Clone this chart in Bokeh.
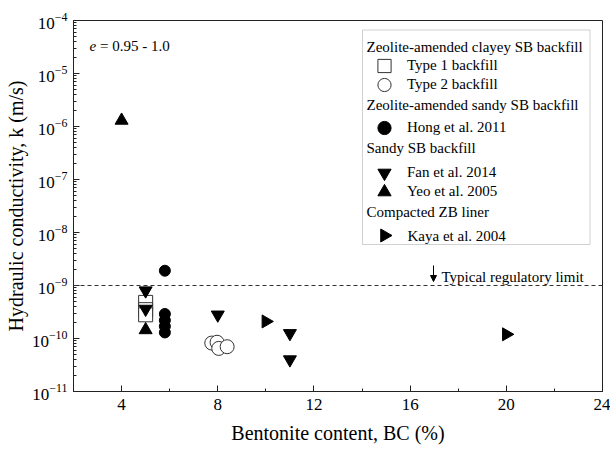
import numpy as np
from bokeh.plotting import figure
from bokeh.models import (Range1d, FixedTicker, Legend, LegendItem, Label,
                          BoxAnnotation, Span, Arrow, NormalHead)
from bokeh.embed import file_html
from bokeh.resources import INLINE

# ---------------- data ----------------
type1_bc = [5.0, 5.0, 5.0]
type1_k = [4.8e-10, 3.5e-10, 2.8e-10]
type2_bc = [7.75, 7.97, 8.04, 8.39]
type2_k = [8.2e-11, 8.5e-11, 6.5e-11, 7.0e-11]
hong_bc = [5.8, 5.8, 5.8, 5.8, 5.8]
hong_k = [1.9e-9, 2.9e-10, 2.2e-10, 1.7e-10, 1.3e-10]
fan_bc = [5.0, 5.0, 8.0, 11.0, 11.0]
fan_k = [8.0e-10, 3.6e-10, 2.8e-10, 1.25e-10, 4.0e-11]
yeo_bc = [4.0, 5.0]
yeo_k = [1.3e-6, 1.45e-10]
kaya_bc = [10.0, 20.0]
kaya_k = [2.1e-10, 1.2e-10]
regulatory_limit = 1e-9

x_ticks = [4, 8, 12, 16, 20, 24]
x_minor = [6, 10, 14, 18, 22]
y_exps = list(range(-11, -3))

FONT = "Liberation Serif"

# ---------------- layout (canvas pixels) ----------------
W, H = 610, 451
PL, PR, PT, PB = 73, 602, 20, 391      # frame edges
X0, X1 = 2, 24
E0, E1 = -4, -11


def xd(px):
    return X0 + (px - PL) * (X1 - X0) / (PR - PL)


def yd(py):
    return 10 ** (E0 + (py - PT) * (E1 - E0) / (PB - PT))


p = figure(width=W, height=H, x_range=Range1d(X0, X1),
           y_range=Range1d(10.0 ** E1, 10.0 ** E0), y_axis_type="log",
           output_backend="svg", toolbar_location=None,
           min_border_left=PL, min_border_right=W - PR,
           min_border_top=PT, min_border_bottom=H - PB)
p.background_fill_color = "white"
p.border_fill_color = "white"
p.outline_line_color = "#222222"
p.outline_line_width = 1
p.xgrid.visible = False
p.ygrid.visible = False

p.xaxis.ticker = FixedTicker(ticks=x_ticks, minor_ticks=x_minor)
p.yaxis.ticker = FixedTicker(ticks=[10.0 ** e for e in y_exps],
                             minor_ticks=[m * 10.0 ** e for e in y_exps[:-1] for m in range(2, 10)])
for ax in (p.xaxis[0], p.yaxis[0]):
    ax.major_tick_in = 6
    ax.major_tick_out = 0
    ax.minor_tick_in = 3
    ax.minor_tick_out = 0
    ax.axis_line_color = "#222222"
    ax.major_tick_line_color = "#222222"
    ax.minor_tick_line_color = "#222222"
    ax.major_label_text_font = FONT
    ax.major_label_text_font_size = "17px"
    ax.major_label_text_color = "black"
    ax.axis_label_text_font = FONT
    ax.axis_label_text_font_size = "20px"
    ax.axis_label_text_font_style = "normal"
    ax.axis_label_text_color = "black"
p.xaxis.major_label_standoff = 7
p.yaxis.major_label_standoff = 6
p.xaxis.axis_label = "Bentonite content, BC (%)"
p.yaxis.axis_label = "Hydraulic conductivity, k (m/s)"
p.xaxis.axis_label_standoff = 9
p.yaxis.axis_label_standoff = 2

# ---------------- data marks ----------------
p.add_layout(Span(location=regulatory_limit, dimension="width", line_dash="4 3",
                  line_color="#333333", line_width=1))

r_type1 = p.scatter(type1_bc, type1_k, marker="square", size=14,
                    fill_color="white", line_color="#333333", line_width=1)
r_type2 = p.scatter(type2_bc, type2_k, marker="circle", size=14,
                    fill_color="white", line_color="#333333", line_width=1)
r_hong = p.scatter(hong_bc, hong_k, marker="circle", size=11, color="black")
r_fan = p.scatter(fan_bc, fan_k, marker="inverted_triangle", size=13, color="black")
r_yeo = p.scatter(yeo_bc, yeo_k, marker="triangle", size=13, color="black")
r_kaya = p.scatter(kaya_bc, kaya_k, marker="triangle", angle=-np.pi / 2,
                   size=13, color="black")

# ---------------- legend ----------------
p.add_layout(BoxAnnotation(left=xd(362), right=xd(589.5), top=yd(29.5), bottom=yd(244),
                           fill_alpha=0, line_color="#666666", line_width=1))

txt15 = dict(text_font=FONT, text_font_size="15px", text_color="black")
headers = [("Zeolite-amended clayey SB backfill", 46),
           ("Zeolite-amended sandy SB backfill", 104.3),
           ("Sandy SB backfill", 147.7),
           ("Compacted ZB liner", 211.7)]
for text, cy in headers:
    p.add_layout(Label(x=xd(366), y=yd(cy), text=text, text_baseline="middle",
                       text_align="left", **txt15))

entries = [("Type 1 backfill", r_type1, 65.7),
           ("Type 2 backfill", r_type2, 84.3),
           ("Hong et al. 2011", r_hong, 127.7),
           ("Fan et al. 2014", r_fan, 172.0),
           ("Yeo et al. 2005", r_yeo, 191.7)]
GW, GH = 36, 33
for lab, r, cy in entries:
    leg = Legend(items=[LegendItem(label=lab, renderers=[r])],
                 location=(384 - GW / 2 - PL, PB - (cy + GH / 2)),
                 border_line_alpha=0, background_fill_alpha=0,
                 padding=0, margin=0, spacing=0,
                 glyph_height=GH, glyph_width=GW, label_height=GH, label_standoff=5,
                 label_text_font=FONT, label_text_font_size="15px", label_text_color="black")
    p.add_layout(leg)

# Kaya entry: right-pointing key drawn directly (legend keys cannot be rotated)
kaya_key_y = 235.0
p.scatter([xd(384)], [yd(kaya_key_y)], marker="triangle", angle=-np.pi / 2,
          size=13, color="black")
p.add_layout(Label(x=xd(407), y=yd(kaya_key_y), text="Kaya et al. 2004",
                   text_baseline="middle", text_align="left", **txt15))

# ---------------- annotations ----------------
p.add_layout(Arrow(end=NormalHead(size=6, fill_color="black", line_color="black", line_width=1),
                   x_start=xd(433), y_start=yd(265), x_end=xd(433), y_end=yd(281),
                   line_color="black", line_width=1))
p.add_layout(Label(x=xd(441), y=yd(276), text="Typical regulatory limit",
                   text_baseline="alphabetic", text_align="left", **txt15))

p.add_layout(Label(x=xd(89), y=yd(45.5), text="e", text_font_style="italic",
                   text_baseline="alphabetic", **txt15))
p.add_layout(Label(x=xd(89), y=yd(45.5), x_offset=10.5, text="= 0.95 - 1.0",
                   text_baseline="alphabetic", **txt15))

open("out.html", "w").write(file_html(p, INLINE))
